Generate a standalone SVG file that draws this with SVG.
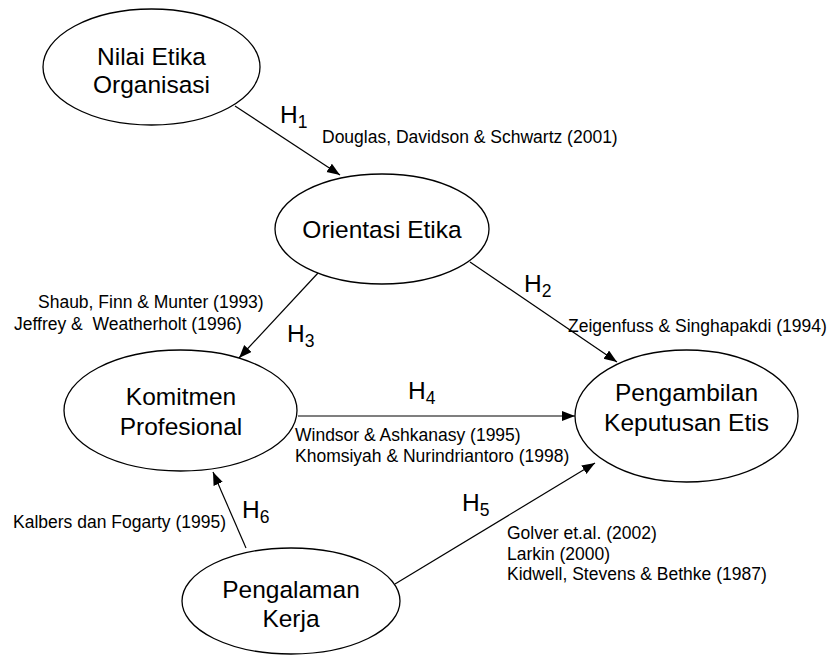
<svg xmlns="http://www.w3.org/2000/svg" width="828" height="657" viewBox="0 0 828 657">
<defs>
<marker id="ah" markerUnits="userSpaceOnUse" markerWidth="14" markerHeight="11" refX="13" refY="5" orient="auto">
<path d="M0,0 L13,5 L0,10 z" fill="#000"/>
</marker>
<style>
.node ellipse{fill:#fff;stroke:#000;stroke-width:1.3}
.lbl{font-family:"Liberation Sans",Arial,sans-serif;font-size:24.5px;fill:#000;text-anchor:middle}
.h{font-family:"Liberation Sans",Arial,sans-serif;font-size:24.5px;fill:#000}
.sub{font-size:17.5px}
.cite{font-family:"Liberation Sans",Arial,sans-serif;font-size:17.5px;fill:#000}
.edge{stroke:#000;stroke-width:1.2;fill:none;marker-end:url(#ah)}
</style>
</defs>
<rect width="828" height="657" fill="#fff"/>
<g id="connectors">
<line class="edge" x1="235" y1="106" x2="340" y2="175"/>
<line class="edge" x1="470" y1="262" x2="617" y2="362"/>
<line class="edge" x1="318" y1="273" x2="239" y2="358"/>
<line class="edge" x1="298" y1="416" x2="575" y2="416"/>
<line class="edge" x1="395" y1="584" x2="595" y2="463"/>
<line class="edge" x1="246" y1="548" x2="213" y2="472"/>
</g>
<g id="node-nilai" class="node">
<ellipse cx="151.5" cy="67" rx="108.5" ry="58"/>
<text class="lbl" x="151.5" y="65">Nilai Etika</text>
<text class="lbl" x="151.5" y="93">Organisasi</text>
</g>
<g id="node-orientasi" class="node">
<ellipse cx="382" cy="229" rx="107" ry="55"/>
<text class="lbl" x="382" y="238">Orientasi Etika</text>
</g>
<g id="node-komitmen" class="node">
<ellipse cx="180.5" cy="410.5" rx="116.5" ry="60.5"/>
<text class="lbl" x="181" y="405">Komitmen</text>
<text class="lbl" x="181" y="435">Profesional</text>
</g>
<g id="node-pengambilan" class="node">
<ellipse cx="686.5" cy="416" rx="111.5" ry="66"/>
<text class="lbl" x="686.5" y="401">Pengambilan</text>
<text class="lbl" x="686.5" y="431">Keputusan Etis</text>
</g>
<g id="node-pengalaman" class="node">
<ellipse cx="291" cy="601" rx="109" ry="53"/>
<text class="lbl" x="291" y="598">Pengalaman</text>
<text class="lbl" x="291" y="627">Kerja</text>
</g>
<g id="labels">
<text class="h" x="280" y="123">H<tspan class="sub" dy="5">1</tspan></text>
<text class="cite" x="322" y="143">Douglas, Davidson &amp; Schwartz (2001)</text>
<text class="h" x="524" y="292">H<tspan class="sub" dy="5">2</tspan></text>
<text class="cite" x="568" y="332">Zeigenfuss &amp; Singhapakdi (1994)</text>
<text class="h" x="287" y="342">H<tspan class="sub" dy="5">3</tspan></text>
<text class="cite" x="38" y="308">Shaub, Finn &amp; Munter (1993)</text>
<text class="cite" x="14" y="330" xml:space="preserve">Jeffrey &amp;  Weatherholt (1996)</text>
<text class="h" x="408" y="399">H<tspan class="sub" dy="5">4</tspan></text>
<text class="cite" x="295" y="441">Windsor &amp; Ashkanasy (1995)</text>
<text class="cite" x="295" y="462">Khomsiyah &amp; Nurindriantoro (1998)</text>
<text class="h" x="462" y="511">H<tspan class="sub" dy="5">5</tspan></text>
<text class="cite" x="507" y="539">Golver et.al. (2002)</text>
<text class="cite" x="507" y="560">Larkin (2000)</text>
<text class="cite" x="507" y="580">Kidwell, Stevens &amp; Bethke (1987)</text>
<text class="h" x="242" y="518">H<tspan class="sub" dy="5">6</tspan></text>
<text class="cite" x="13" y="528">Kalbers dan Fogarty (1995)</text>
</g>
</svg>
